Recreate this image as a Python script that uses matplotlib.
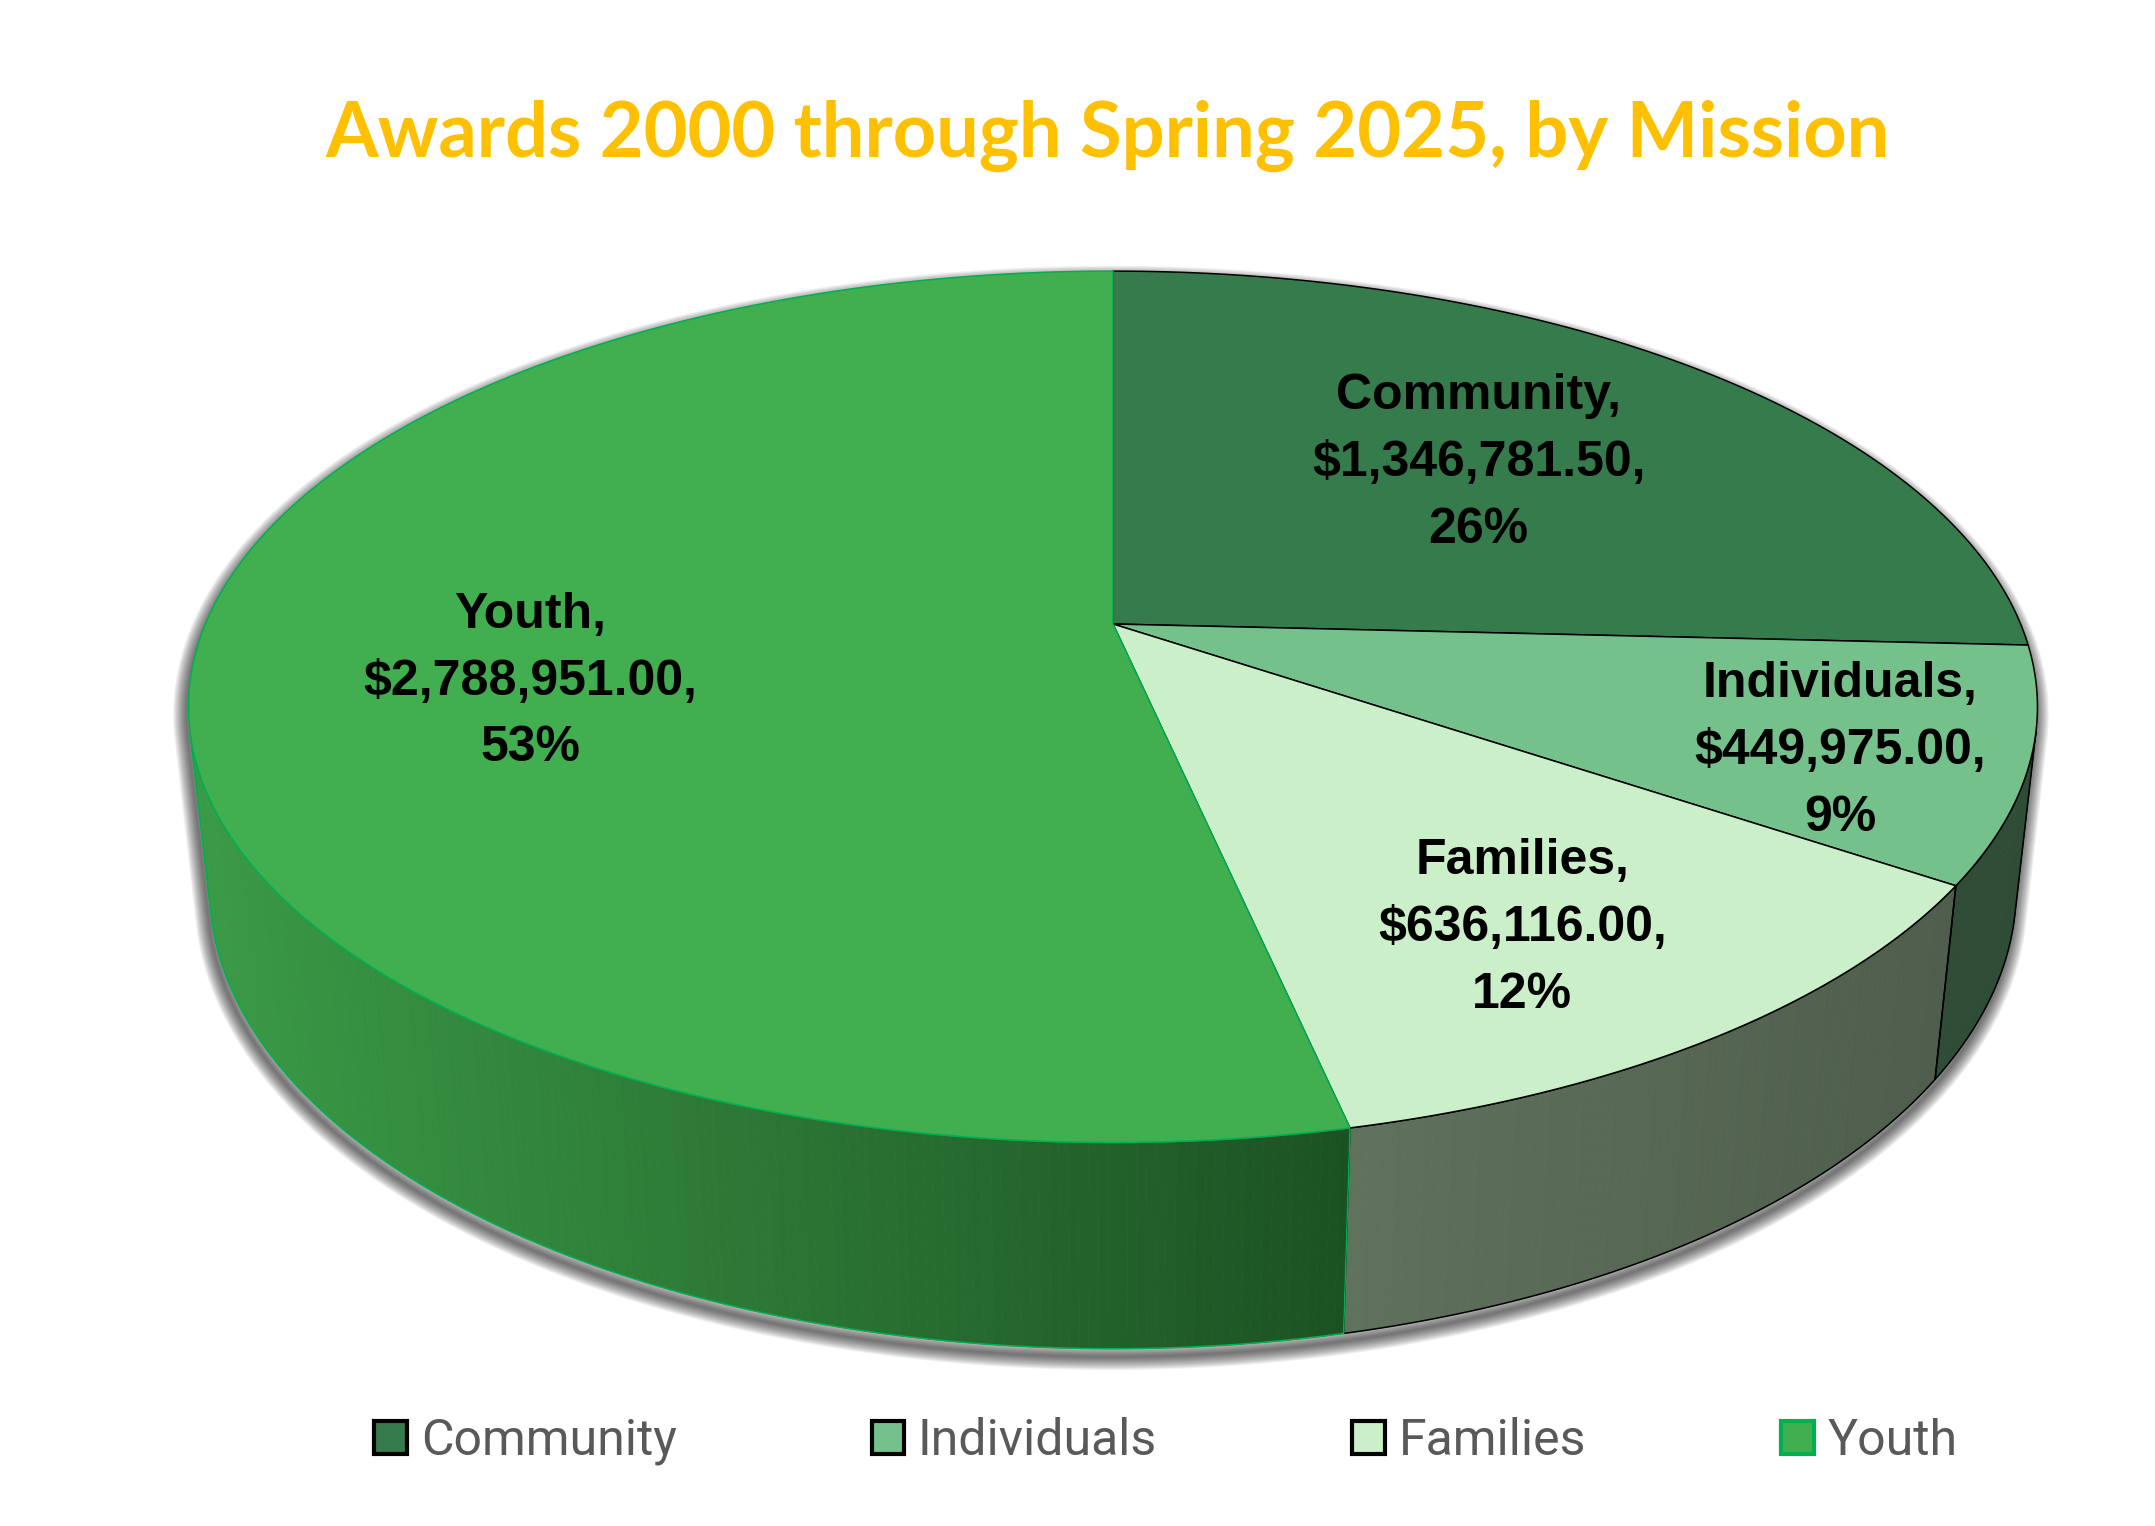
import numpy as np
import matplotlib.pyplot as plt
from matplotlib.patches import Polygon, Patch
from matplotlib.colors import to_rgb

W, H = 2155, 1526

categories = ["Community", "Individuals", "Families", "Youth"]
amounts = [1346781.50, 449975.00, 636116.00, 2788951.00]
title = "Awards 2000 through Spring 2025, by Mission"

top_colors = ["#357B4B", "#74C18C", "#CBEFC9", "#41AF50"]
side_left = ["#2E5A3C", "#2E4C36", "#5F725C", "#3A9A46"]
side_right = ["#2E5A3C", "#2E4C36", "#4E5D4C", "#1C5223"]
edge_colors = ["black", "black", "black", "#00B050"]
# label placement: angle shift from the slice middle and radius
label_dt = [0, 2.3, 2.3, -5.9]
label_r = [0.6, 0.81, 0.75, 0.64]

# camera for the 3d look (pixel units)
CX, CY = 1113, 624
D = 4.666
PHI = np.radians(27.56)
F = 4235
THICK = 0.228
cp, sp = np.cos(PHI), np.sin(PHI)


def project(t_deg, r=1.0, z=0.0):
    t = np.radians(t_deg)
    x = r * np.sin(t)
    y = r * np.cos(t)
    d = D + y * cp - z * sp
    px = CX + F * x / d
    py = CY - F * (y * sp + z * cp) / d
    return px, py


def arc(a0, a1, z=0.0):
    n = max(int(abs(a1 - a0) * 2), 4)
    t = np.linspace(a0, a1, n)
    return np.column_stack(project(t, 1.0, z))


total = sum(amounts)
fracs = [a / total for a in amounts]
edges = np.concatenate([[0], np.cumsum(fracs) * 360])

fig = plt.figure(figsize=(W / 100, H / 100), dpi=100)
ax = fig.add_axes([0, 0, 1, 1])
ax.set_xlim(0, W)
ax.set_ylim(H, 0)
ax.axis("off")

# visible part of the outer wall
t_lo = np.degrees(np.arccos(-1 / (D * cp)))
t_hi = 360 - t_lo

# soft shadow under the pie
front = arc(t_lo, t_hi, -THICK)
back = arc(t_hi, 360 + t_lo, 0.0)
sil = np.vstack([front, back]) + np.array([-2, 8])
for k in range(12, 0, -1):
    ax.add_patch(Polygon(sil, closed=True, facecolor="none", edgecolor="black",
                         lw=k * 1.6, alpha=0.06, joinstyle="round", zorder=1))

# side walls
for i in range(len(categories)):
    a0, a1 = edges[i], edges[i + 1]
    s0, s1 = max(a0, t_lo), min(a1, t_hi)
    if s1 <= s0:
        continue
    c_l = np.array(to_rgb(side_left[i]))
    c_r = np.array(to_rgb(side_right[i]))
    n = max(int((s1 - s0) * 2), 2)
    ts = np.linspace(s0, s1, n + 1)
    xs = project(ts)[0]
    xmin, xmax = xs.min(), xs.max()
    for j in range(n):
        top = arc(ts[j], ts[j + 1], 0.0)
        bot = arc(ts[j + 1], ts[j], -THICK)
        xm = 0.5 * (xs[j] + xs[j + 1])
        f = (xm - xmin) / (xmax - xmin) if xmax > xmin else 0
        col = c_l + (c_r - c_l) * f
        ax.add_patch(Polygon(np.vstack([top, bot]), closed=True, facecolor=col,
                             edgecolor=col, lw=0.6, zorder=2))
    outline = np.vstack([arc(s0, s1, 0.0), arc(s1, s0, -THICK)])
    ax.add_patch(Polygon(outline, closed=True, facecolor="none",
                         edgecolor=edge_colors[i], lw=1.1, zorder=3))

# top faces
for i in range(len(categories)):
    a0, a1 = edges[i], edges[i + 1]
    pts = np.vstack([[CX, CY], arc(a0, a1, 0.0)])
    ax.add_patch(Polygon(pts, closed=True, facecolor=top_colors[i],
                         edgecolor=edge_colors[i], lw=1.1, zorder=4))

# data labels
for i, name in enumerate(categories):
    mid = 0.5 * (edges[i] + edges[i + 1]) + label_dt[i]
    lx, ly = project(mid, label_r[i], 0.0)
    txt = f"{name},\n${amounts[i]:,.2f},\n{fracs[i]:.0%}"
    ax.text(lx, ly, txt, ha="center", va="center", fontsize=36, fontweight="bold",
            family="Liberation Sans", linespacing=1.58, color="black", zorder=6)

ax.text(1108, 136, title, ha="center", va="center", fontsize=54.5, fontweight="bold",
        family="Lato", color="#FFC000")

handles = [Patch(facecolor=top_colors[i], edgecolor=edge_colors[i], lw=3)
           for i in range(len(categories))]
leg = fig.legend(handles, categories, loc="center", bbox_to_anchor=(1166 / W, 1 - 1441 / H),
                 ncol=4, frameon=False, handlelength=0.65, handleheight=0.65,
                 handletextpad=0.28, columnspacing=3.9, prop={"family": "Roboto", "size": 36})
for t in leg.get_texts():
    t.set_color("#595959")

fig.savefig("out.png", dpi=100)
